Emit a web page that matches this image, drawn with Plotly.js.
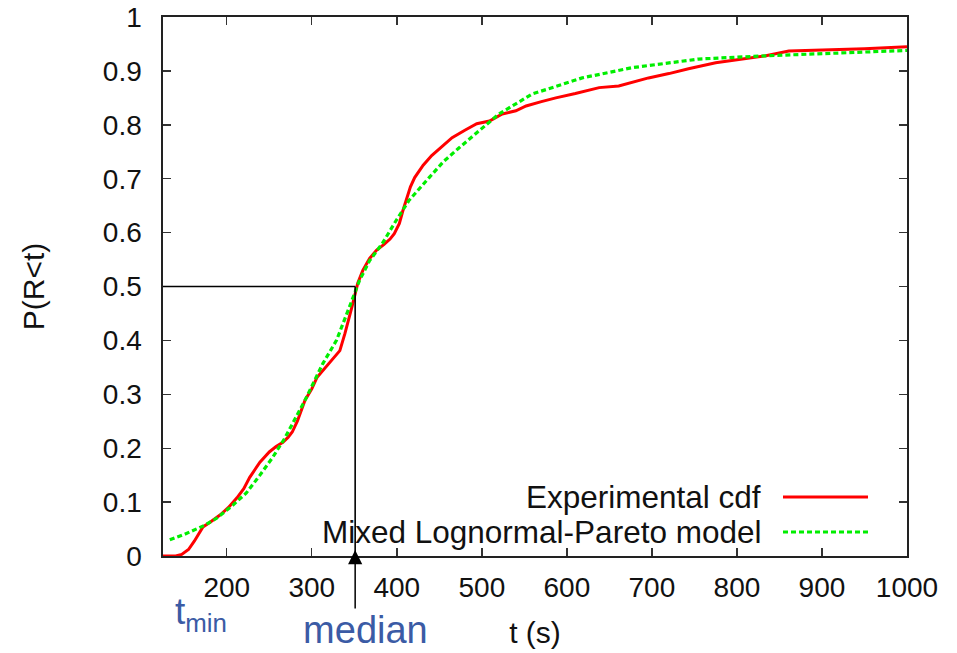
<!DOCTYPE html>
<html>
<head>
<meta charset="utf-8">
<script src="https://cdn.plot.ly/plotly-3.0.1.min.js"></script>
<style>html,body{margin:0;padding:0;background:#fff;}#chart{width:957px;height:653px;}</style>
</head>
<body>
<div id="chart"></div>
<script>
// Experimental cdf
const expT = [125,140,147,155,162,168,172,180,192,202,212,220,227,233,239,250,258,266,272,277,283,292,300,306,315,325,333,339,344,347,354,360,368,376,385,392,397,403,407,411,416,421,431,441,453,465,480,494,509,524,540,552,570,587,610,638,661,680,696,720,743,775,800,834,861,900,950,1000];
const expP = [0,0,0.003,0.012,0.028,0.045,0.054,0.062,0.076,0.09,0.108,0.125,0.146,0.16,0.174,0.193,0.203,0.211,0.22,0.23,0.25,0.289,0.31,0.331,0.347,0.365,0.381,0.413,0.44,0.461,0.506,0.53,0.552,0.567,0.578,0.588,0.598,0.617,0.64,0.659,0.685,0.702,0.725,0.743,0.76,0.776,0.79,0.802,0.807,0.82,0.826,0.835,0.843,0.85,0.858,0.869,0.872,0.88,0.887,0.895,0.904,0.915,0.92,0.928,0.937,0.939,0.941,0.945];
// Mixed Lognormal-Pareto model
const modT = [133,150,174,188,207,223,239,254,268,280,292,313,329,344,356,368,383,399,414,438,455,473,520,559,618,677,755,834,912,1000];
const modP = [0.03,0.04,0.057,0.07,0.094,0.117,0.15,0.183,0.218,0.252,0.289,0.357,0.4,0.461,0.511,0.548,0.58,0.622,0.659,0.702,0.732,0.757,0.82,0.857,0.887,0.906,0.922,0.928,0.933,0.938];
const seriesNames = ["Experimental cdf", "Mixed Lognormal-Pareto model"];
const tMin = 125;
const medianT = 351;
const medianP = 0.5;
const xTicks = [200,300,400,500,600,700,800,900,1000];
const yTicks = [0,0.1,0.2,0.3,0.4,0.5,0.6,0.7,0.8,0.9,1];
const yTickText = ["0","0.1","0.2","0.3","0.4","0.5","0.6","0.7","0.8","0.9","1"];

const RED = "#ff0000", GREEN = "#00ee00", BLUE = "#3b5ba5";
const FONT = "Liberation Sans, Arial, sans-serif";

const traces = [
  {x: expT, y: expP, type: "scatter", mode: "lines", name: seriesNames[0],
   line: {color: RED, width: 3}, showlegend: false},
  {x: modT, y: modP, type: "scatter", mode: "lines", name: seriesNames[1],
   line: {color: GREEN, width: 3.2, dash: "5px,3px"}, showlegend: false}
];

const axisCommon = {
  showgrid: false, zeroline: false, showline: true, linecolor: "#222", linewidth: 1.6,
  mirror: "ticks", ticks: "inside", ticklen: 8, tickwidth: 1.4, tickcolor: "#333",
  tickfont: {family: FONT, size: 28, color: "#111"}
};

const legX0 = (783-163)/744, legX1 = (868-163)/744, legTextX = (763-163)/744;
const legY = [(556-497)/539, (556-532)/539];

const layout = {
  width: 957, height: 653,
  margin: {l: 163, r: 50, t: 17, b: 97},
  paper_bgcolor: "#fff", plot_bgcolor: "#fff",
  showlegend: false,
  xaxis: Object.assign({}, axisCommon, {
    range: [tMin, 1000], tickmode: "array", tickvals: xTicks, ticktext: xTicks.map(String),
    ticklabelstandoff: 6,
    title: {text: "t (s)", font: {family: FONT, size: 30, color: "#111"}, standoff: 20}
  }),
  yaxis: Object.assign({}, axisCommon, {
    range: [0, 1], tickmode: "array", tickvals: yTicks, ticktext: yTickText,
    ticklabelstandoff: 14,
    title: {text: "P(R<t)", font: {family: FONT, size: 30, color: "#111"}, standoff: 49}
  }),
  shapes: [
    {type: "line", xref: "x", yref: "y", x0: tMin, x1: medianT, y0: medianP, y1: medianP,
     line: {color: "#000", width: 1.6}},
    {type: "line", xref: "x", yref: "y", x0: medianT, x1: medianT, y0: medianP, y1: 0,
     line: {color: "#000", width: 1.6}},
    {type: "line", xref: "paper", yref: "paper", x0: legX0, x1: legX1, y0: legY[0], y1: legY[0],
     line: {color: RED, width: 3}},
    {type: "line", xref: "paper", yref: "paper", x0: legX0, x1: legX1, y0: legY[1], y1: legY[1],
     line: {color: GREEN, width: 3, dash: "5px,3px"}}
  ],
  annotations: [
    {xref: "paper", yref: "paper", x: legTextX, y: legY[0], xanchor: "right", yanchor: "middle",
     text: seriesNames[0], showarrow: false, font: {family: FONT, size: 31.5, color: "#111"}},
    {xref: "paper", yref: "paper", x: legTextX, y: legY[1], xanchor: "right", yanchor: "middle",
     text: seriesNames[1], showarrow: false, font: {family: FONT, size: 31.5, color: "#111"}},
    {xref: "x", yref: "y", x: medianT, y: 0.011, ax: 0, ay: 80, axref: "pixel", ayref: "pixel",
     text: "&nbsp;&nbsp;median", showarrow: true, arrowhead: 2, arrowsize: 1.9, arrowwidth: 1.5,
     arrowcolor: "#000", font: {family: FONT, size: 38, color: BLUE}, borderpad: 0},
    {xref: "paper", yref: "paper", x: (173-163)/744, y: (556-589)/539, xanchor: "left", yanchor: "top",
     text: "t<sub>min</sub>", showarrow: false, font: {family: FONT, size: 37, color: BLUE}}
  ]
};

Plotly.newPlot("chart", traces, layout, {displayModeBar: false, staticPlot: true});
</script>
</body>
</html>
